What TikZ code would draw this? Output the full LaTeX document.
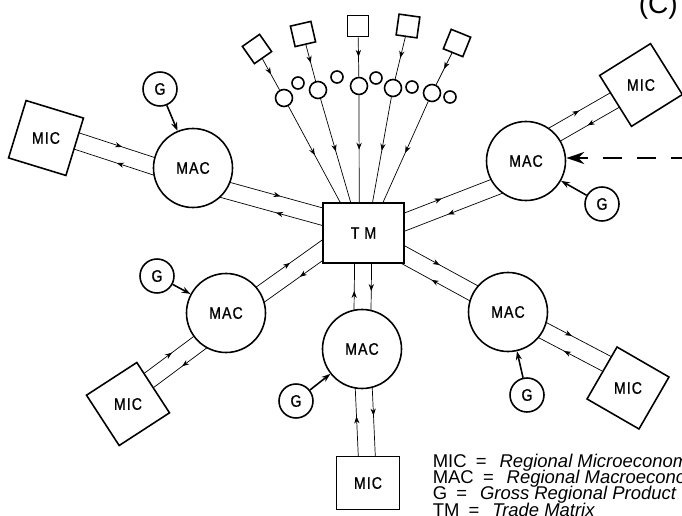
\documentclass[tikz,border=0pt]{standalone}
\usepackage{fontspec}
\setmainfont{Liberation Sans}
\newfontfamily\lblfont[FakeStretch=0.85,LetterSpace=6,FakeBold=0.8]{Liberation Sans}
\usetikzlibrary{arrows.meta,calc,backgrounds,decorations.markings}
\newcommand{\dbl}[2]{%
  \draw[fwd] ($(#1)!1.7mm!90:(#2)$) -- ($(#2)!1.7mm!-90:(#1)$);
  \draw[bwd] ($(#1)!1.7mm!-90:(#2)$) -- ($(#2)!1.7mm!90:(#1)$);}

\begin{document}
\begin{tikzpicture}[x=0.2mm,y=-0.2mm,line width=0.9pt,
  lbl/.style={font=\lblfont\fontsize{9.5}{11}\selectfont,inner sep=0pt},
  mac/.style={circle,draw,fill=white,minimum size=15.8mm,inner sep=0pt,lbl},
  mic/.style={rectangle,draw,fill=white,minimum size=12mm,inner sep=0pt},
  gnode/.style={circle,draw,fill=white,minimum size=6.8mm,inner sep=0pt,lbl},
  tbox/.style={rectangle,draw,fill=white,minimum size=4.2mm,inner sep=0pt},
  bigc/.style={circle,draw,fill=white,minimum size=3.4mm,inner sep=0pt},
  smallc/.style={circle,draw,fill=white,minimum size=2.4mm,inner sep=0pt},
  fwd/.style={postaction={decorate},decoration={markings,
    mark=at position 0.5 with {\arrow{Stealth[length=4pt,width=3pt]}}}},
  bwd/.style={postaction={decorate},decoration={markings,
    mark=at position 0.5 with {\arrowreversed{Stealth[length=4pt,width=3pt]}}}},
  feed/.style={-{Stealth[length=5pt,width=3.5pt]}},
  legend/.style={anchor=base west,font=\fontsize{10.5}{12}\selectfont,inner sep=0pt}]
  \useasboundingbox (0,0) rectangle (682,516);

  \node[rectangle,draw,fill=white,minimum width=16.2mm,minimum height=12mm,lbl] (TM) at (363.5,233) {T M};
  \node[mac] (MAC1) at (193,168) {MAC};
  \node[mac] (MAC2) at (526,161) {MAC};
  \node[mac] (MAC3) at (226,313) {MAC};
  \node[mac] (MAC4) at (362,349) {MAC};
  \node[mac] (MAC5) at (508,312) {MAC};

  \foreach \n/\px/\py/\rot in {1/46/138/-17, 2/641/85/32, 3/128/404/33, 5/628/388/-30} {
    \node[mic,rotate=\rot] (MIC\n) at (\px,\py) {};
    \node[lbl] (MIC\n t) at (MIC\n) {MIC};
  }
  \node[mic,minimum width=12.6mm,minimum height=10.6mm,lbl] (MIC4) at (368,483) {MIC};

  \foreach \n/\px/\py in {1/160/89, 2/602/204, 3/157/276, 4/296/401, 5/527/395}
    \node[gnode] (G\n) at (\px,\py) {G};

  \foreach \i/\sx/\sy/\rot/\bx/\by/\cx/\cy in {1/257/49/35/284/98/298/83,
      2/303/34/13/318/90/337/77, 3/358/26/0/359/86/376/78,
      4/408/26/-8/393/88/412/87, 5/457/43/-22/432/93/450/97} {
    \node[tbox,rotate=\rot] (sq\i) at (\sx,\sy) {};
    \node[bigc] (bc\i) at (\bx,\by) {};
    \node[smallc] (sc\i) at (\cx,\cy) {};
  }

  \coordinate (m1a) at ($(MIC1)+(0,-7)$);
  \coordinate (a1m) at ($(MAC1)+(0,11)$);
  \coordinate (a1t) at ($(MAC1)+(0,13)$);
  \coordinate (t1) at ($(TM)+(0,-5)$);
  \coordinate (t2) at ($(TM)+(0,5)$);
  \coordinate (a2t) at ($(MAC2)+(0,14)$);
  \coordinate (a2m) at ($(MAC2)+(0,-10)$);
  \coordinate (m5a) at ($(MIC5)+(0,-13)$);
  \coordinate (t3) at ($(TM)+(0,-12)$);
  \coordinate (a3t) at ($(MAC3)+(0,6)$);
  \coordinate (a3m) at ($(MAC3)+(0,10)$);
  \coordinate (m3a) at ($(MIC3)+(0,-8)$);

  \begin{scope}[on background layer]
    \dbl{m1a}{a1m}
    \dbl{a1t}{t1}
    \dbl{t2}{a2t}
    \dbl{a2m}{MIC2}
    \dbl{TM}{MAC5}
    \dbl{MAC5}{m5a}
    \dbl{TM}{MAC4}
    \dbl{MAC4}{MIC4}
    \dbl{t3}{a3t}
    \dbl{a3m}{m3a}
    \foreach \i/\tx in {1/19, 2/29, 3/37, 4/50, 5/60} {
      \draw[fwd] (sq\i) -- (bc\i);
      \draw[fwd] (bc\i) -- ($(TM.north west)+(\tx,2)$);
    }
  \end{scope}

  \foreach \n in {1,...,5}
    \draw[feed] (G\n) -- (MAC\n);

  \coordinate (ext) at (690,158);
  \draw[dash pattern=on 3.8mm off 3mm,-{Stealth[length=3.6mm,width=2.4mm,inset=1.2mm]}]
    (ext) -- (ext -| MAC2.east);

  \node[anchor=base west,font=\fontsize{16}{18}\selectfont,inner sep=0pt] (tag) at (638,14) {(C)};
  \node[legend] (leg1) at (432,467) {MIC\hspace{0.5em}=\hspace{0.7em}\textit{Regional Microeconomic Model}};
  \node[legend] (leg2) at (432,483) {MAC\hspace{0.5em}=\hspace{0.7em}\textit{Regional Macroeconomic Model}};
  \node[legend] (leg3) at (432,499) {G\hspace{0.5em}=\hspace{0.7em}\textit{Gross Regional Product}};
  \node[legend] (leg4) at (432,516) {TM\hspace{0.5em}=\hspace{0.7em}\textit{Trade Matrix}};
\end{tikzpicture}
\end{document}
